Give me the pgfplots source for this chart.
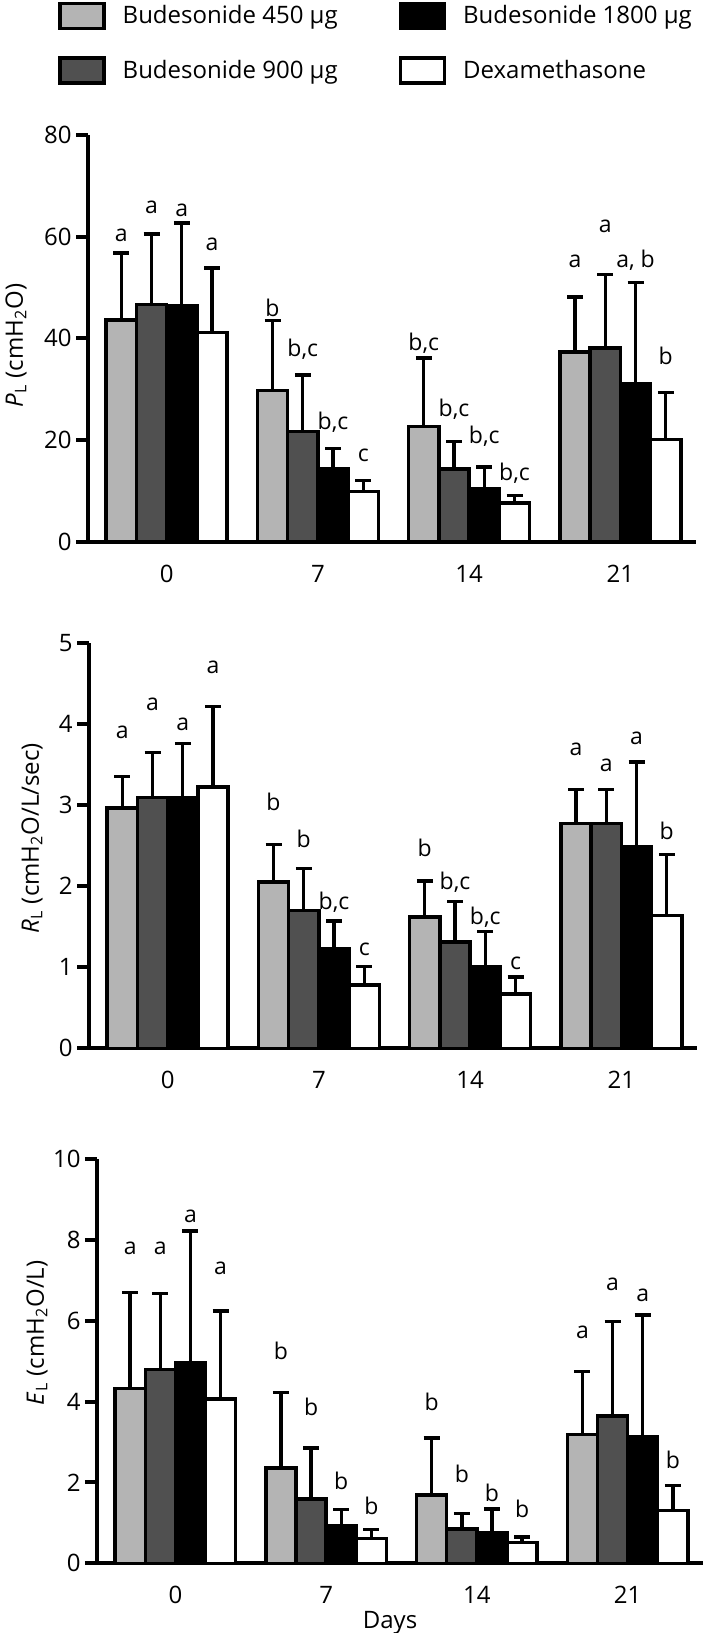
\documentclass[border=0pt]{standalone}
\usepackage{fontspec}
\setmainfont{Open Sans}
\usepackage{pgfplots}
\pgfplotsset{compat=1.18}
\definecolor{lg}{HTML}{B4B4B4}
\definecolor{dg}{HTML}{505050}
\pgfplotsset{
  panel/.style={
    scale only axis,
    axis lines*=left,
    axis line style={line width=2pt},
    xmin=-0.52, xmax=3.5, ymin=0,
    xtick={0,1,2,3}, xticklabels={0,7,14,21},
    x tick style={draw=none},
    xtick align=inside,
    y tick style={line width=2pt, black},
    ytick align=outside,
    major tick length=6pt,
    tick label style={font=\fontsize{12}{14}\selectfont},
    /pgf/number format/assume math mode=true,
    xticklabel style={anchor=center, inner sep=0pt, yshift=-16pt},
    yticklabel style={anchor=east, inner sep=0pt, xshift=-2pt},
    clip=false,
  },
  bars/.style={ybar, bar width=0.2, bar shift=0pt, draw=black, line width=1.7pt, fill=#1,
    legend image code/.code={\draw[##1, line width=1.7pt] (0pt,-6.25pt) rectangle (22pt,6.25pt);},
    error bars/y dir=plus, error bars/y explicit,
    error bars/error bar style={line width=1.7pt, black},
    error bars/error mark options={rotate=90, line width=1.7pt, black, mark size=4pt}},
  letters/.style={only marks, mark=none, forget plot, nodes near coords, point meta=explicit symbolic,
    every node near coord/.style={anchor=center, inner sep=0pt, font=\fontsize{11.5}{13}\selectfont, black}},
}
\begin{document}
\begin{tikzpicture}
\useasboundingbox (0,0) rectangle (354.5pt,816.5pt);
% ---------- Panel 1 ----------
\begin{axis}[panel, at={(44pt,545.65pt)}, anchor=south west, width=304pt, height=203.35pt,
  ymax=80, ytick={0,20,40,60,80},
  ylabel={\textit{P}\textsubscript{L} (cmH\textsubscript{2}O)},
  every axis y label/.style={at={(axis description cs:0,0.482)}, rotate=90, anchor=center, yshift=36pt, font=\fontsize{12}{14}\selectfont},
  legend columns=2, transpose legend, legend cell align=left,
  legend style={draw=none, fill=none, inner sep=0pt, at={(axis description cs:-0.0495,1.330)}, anchor=north west,
    font=\fontsize{12}{14}\selectfont, row sep=12.75pt,
    /tikz/every even column/.append style={column sep=28.5pt},
    /tikz/every odd column/.append style={column sep=6.5pt}},
]
\addplot[bars=lg] coordinates {(-0.3,43.6) +- (0,13.2) (0.7,29.7) +- (0,13.8) (1.7,22.7) +- (0,13.4) (2.7,37.3) +- (0,10.8)};
\addlegendentry{Budesonide 450 µg}
\addplot[bars=dg] coordinates {(-0.1,46.6) +- (0,13.9) (0.9,21.7) +- (0,11.1) (1.9,14.3) +- (0,5.4) (2.9,38.1) +- (0,14.5)};
\addlegendentry{Budesonide 900 µg}
\addplot[bars=black] coordinates {(0.1,46.5) +- (0,16.2) (1.1,14.3) +- (0,4.0) (2.1,10.5) +- (0,4.2) (3.1,31.0) +- (0,20.0)};
\addlegendentry{Budesonide 1800 µg}
\addplot[bars=white] coordinates {(0.3,41.2) +- (0,12.6) (1.3,9.9) +- (0,2.1) (2.3,7.6) +- (0,1.5) (3.3,20.1) +- (0,9.2)};
\addlegendentry{Dexamethasone}
\addplot[letters] coordinates {
(-0.3,60.2) [a] (-0.1,65.7) [a] (0.1,65.1) [a] (0.3,58.4) [a]
(0.7,46.0) [b] (0.9,37.9) [b,c] (1.1,23.5) [b,c] (1.3,16.9) [c]
(1.7,39.1) [b,c] (1.9,26.1) [b,c] (2.1,20.7) [b,c] (2.3,13.5) [b,c]
(2.7,55.1) [a] (2.9,62.0) [a] (3.1,55.3) [a, b] (3.3,36.5) [b]};
\end{axis}
% ---------- Panel 2 ----------
\begin{axis}[panel, at={(44.5pt,292.35pt)}, anchor=south west, width=304pt, height=202.8pt,
  ymax=5, ytick={0,1,2,3,4,5},
  ylabel={\textit{R}\textsubscript{L} (cmH\textsubscript{2}O/L/sec)},
  every axis y label/.style={at={(axis description cs:0,0.518)}, rotate=90, anchor=center, yshift=28.5pt, font=\fontsize{12}{14}\selectfont},
]
\addplot[bars=lg] coordinates {(-0.3,2.96) +- (0,0.39) (0.7,2.05) +- (0,0.46) (1.7,1.62) +- (0,0.44) (2.7,2.77) +- (0,0.42)};
\addplot[bars=dg] coordinates {(-0.1,3.09) +- (0,0.56) (0.9,1.70) +- (0,0.52) (1.9,1.31) +- (0,0.50) (2.9,2.77) +- (0,0.42)};
\addplot[bars=black] coordinates {(0.1,3.09) +- (0,0.67) (1.1,1.23) +- (0,0.34) (2.1,1.00) +- (0,0.44) (3.1,2.49) +- (0,1.04)};
\addplot[bars=white] coordinates {(0.3,3.22) +- (0,0.99) (1.3,0.78) +- (0,0.23) (2.3,0.67) +- (0,0.21) (3.3,1.64) +- (0,0.75)};
\addplot[letters] coordinates {
(-0.3,3.90) [a] (-0.1,4.24) [a] (0.1,3.99) [a] (0.3,4.70) [a]
(0.7,3.04) [b] (0.9,2.58) [b] (1.1,1.80) [b,c] (1.3,1.22) [c]
(1.7,2.47) [b] (1.9,2.05) [b,c] (2.1,1.62) [b,c] (2.3,1.05) [c]
(2.7,3.68) [a] (2.9,3.49) [a] (3.1,3.82) [a] (3.3,2.68) [b]};
\end{axis}
% ---------- Panel 3 ----------
\begin{axis}[panel, at={(48.5pt,34.85pt)}, anchor=south west, width=303pt, height=202.15pt,
  ymax=10, ytick={0,2,4,6,8,10},
  ylabel={\textit{E}\textsubscript{L} (cmH\textsubscript{2}O/L)},
  every axis y label/.style={at={(axis description cs:0,0.57)}, rotate=90, anchor=center, yshift=30pt, font=\fontsize{12}{14}\selectfont},
  xlabel={Days},
  every axis x label/.style={at={(axis description cs:0.4835,0)}, anchor=center, yshift=-30pt, font=\fontsize{12}{14}\selectfont},
]
\addplot[bars=lg] coordinates {(-0.3,4.32) +- (0,2.38) (0.7,2.36) +- (0,1.87) (1.7,1.69) +- (0,1.41) (2.7,3.18) +- (0,1.57)};
\addplot[bars=dg] coordinates {(-0.1,4.80) +- (0,1.88) (0.9,1.59) +- (0,1.26) (1.9,0.85) +- (0,0.38) (2.9,3.64) +- (0,2.34)};
\addplot[bars=black] coordinates {(0.1,4.97) +- (0,3.25) (1.1,0.93) +- (0,0.40) (2.1,0.76) +- (0,0.58) (3.1,3.14) +- (0,3.00)};
\addplot[bars=white] coordinates {(0.3,4.06) +- (0,2.18) (1.3,0.61) +- (0,0.23) (2.3,0.52) +- (0,0.13) (3.3,1.30) +- (0,0.63)};
\addplot[letters] coordinates {
(-0.3,7.78) [a] (-0.1,7.78) [a] (0.1,8.59) [a] (0.3,7.29) [a]
(0.7,5.26) [b] (0.9,3.86) [b] (1.1,2.04) [b] (1.3,1.43) [b]
(1.7,3.99) [b] (1.9,2.21) [b] (2.1,1.73) [b] (2.3,1.34) [b]
(2.7,5.72) [a] (2.9,6.89) [a] (3.1,6.63) [a] (3.3,2.56) [b]};
\end{axis}
\end{tikzpicture}
\end{document}
